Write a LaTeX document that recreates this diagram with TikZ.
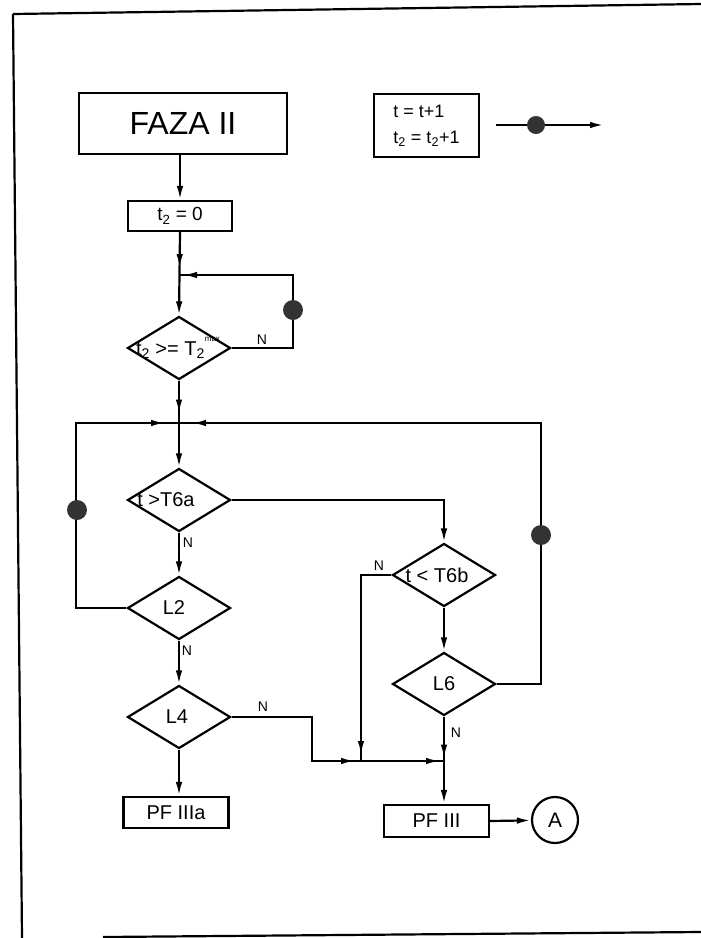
\documentclass[tikz,border=0pt]{standalone}
\usepackage{fontspec}
\setmainfont{Liberation Sans}
\usetikzlibrary{shapes.geometric,arrows.meta,decorations.markings}
\newcommand{\dtext}[2]{\makebox[0pt]{\hspace*{#1}#2}}
\newcommand{\supmax}{\raisebox{1.35ex}{\fontsize{8}{8}\selectfont max}}
\begin{document}
\begin{tikzpicture}[x=1pt,y=-1pt,
  line width=2.2pt,
  every node/.style={inner sep=0pt},
  box/.style={draw,rectangle,line width=2.2pt,font=\fontsize{20}{22}\selectfont},
  dec/.style={draw,diamond,line width=2.2pt,minimum width=103pt,minimum height=63pt,font=\fontsize{20}{22}\selectfont},
  lbl/.style={font=\fontsize{14}{15}\selectfont},
  dot/.style={circle,fill=black!80,draw=none,minimum size=18pt},
  arr/.style={-{Latex[length=14pt,width=6.5pt]}},
  tipat/.style={postaction={decorate},decoration={markings,mark=at position #1 with {\arrow{Latex[length=14pt,width=6.5pt]}}}},
]
\useasboundingbox (0,0) rectangle (701,938);
% frame
\coordinate (fr1) at (13,14);
\coordinate (fr2) at (701,4);
\coordinate (fr3) at (22,938);
\coordinate (fr4) at (103,937);
\coordinate (fr5) at (701,932);
\draw (fr1) -- (fr2);
\draw (fr1) -- (fr3);
\draw (fr4) -- (fr5);

% nodes
\node[box,minimum width=208pt,minimum height=61pt,font=\fontsize{32}{34}\selectfont] (faza) at (183,123.5) {FAZA II};
\node[box,minimum width=105pt,minimum height=63pt,align=left,font=\fontsize{18}{26}\selectfont] (leg) at (426.5,125.5) {t = t+1\\t\textsubscript{2} = t\textsubscript{2}+1};
\coordinate (la1) at (496,125);
\coordinate (la2) at (604,125);
\draw[arr] (la1) -- (la2);
\node[dot] (ldot) at (536,125) {};

\node[box,minimum width=104pt,minimum height=30pt,font=\fontsize{19}{21}\selectfont] (b0) at (180,216) {t\textsubscript{2} = 0};
\coordinate (j1) at (179,275);
\node[dec] (d1) at (179,348) {\dtext{-2pt}{t\textsubscript{2} >= T\textsubscript{2}\supmax}};
\coordinate (j2) at (179,423);
\node[dec] (d2) at (179,500) {\dtext{-26pt}{t >T6a}};
\node[dec] (l2) at (179,608) {\dtext{-10pt}{L2}};
\node[dec] (l4) at (179,717) {\dtext{-4pt}{L4}};
\node[box,minimum width=105pt,minimum height=31pt] (pfa) at (176,812.5) {PF IIIa};

\node[dec] (d3) at (444,575) {\dtext{-14pt}{t < T6b}};
\node[dec] (l6) at (444,684) {L6};
\coordinate (j3) at (361,761);
\coordinate (j4) at (444,761);
\node[box,minimum width=105pt,minimum height=32pt] (pf3) at (436.5,821) {PF III};
\node[circle,draw,minimum size=46pt,font=\fontsize{21}{22}\selectfont] (A) at (555,820) {A};

% connectors
\draw[arr] (b0.north |- faza.south) -- (b0.north);
\draw[arr,tipat=36pt] (b0.south) -- (d1.north);
\coordinate (c1) at (293,275);
\draw[tipat=-4pt] (d1.east) -| (c1) -- (j1);
\node[dot,minimum width=18pt,minimum height=20pt] (dot1) at (293,310) {};
\node[lbl] (n1) at (262,340) {N};

\draw[arr,tipat=33pt] (d1.south) -- (d2.north);
\coordinate (c2) at (76,423);
\draw[tipat=-14pt] (l2.west) -| (c2) -- (j2);
\node[dot,minimum width=18pt,minimum height=20pt] (dot2) at (77,510) {};
\coordinate (c3) at (541,423);
\draw[tipat=-13pt] (l6.east) -| (c3) -- (j2);
\node[dot,minimum width=18pt,minimum height=20pt] (dot3) at (541,535) {};

\draw[arr] (d2.east) -| (d3.north);
\draw[arr] (d2.south) -- (l2.north);
\node[lbl] (n2) at (188,543) {N};
\draw[arr] (l2.south) -- (l4.north);
\node[lbl] (n3) at (187,651) {N};
\draw[arr] (l4.south) -- (l4.south |- pfa.north);

\coordinate (c4) at (312,761);
\draw[tipat=-6pt] (l4.east) -| (c4) -- (j3);
\node[lbl] (n4) at (263,707) {N};

\draw[tipat=-6pt] (d3.west) -| (j3);
\node[lbl] (n5) at (379,566) {N};
\draw[arr] (d3.south) -- (l6.north);
\draw[arr,tipat=42pt] (l6.south) -- (l6.south |- pf3.north);
\node[lbl] (n6) at (456,733) {N};
\draw[tipat=-4pt] (j3) -- (j4);
\draw[arr] (pf3.east) -- (A);
\end{tikzpicture}
\end{document}
